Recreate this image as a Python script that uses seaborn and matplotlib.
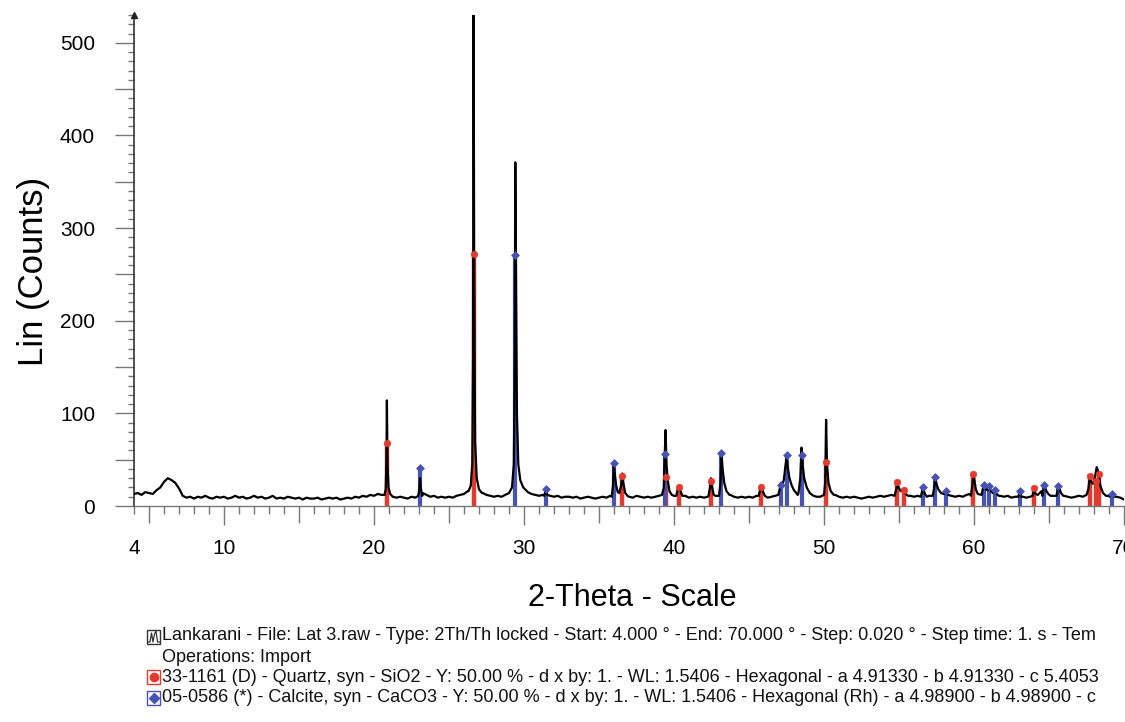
import numpy as np
import pandas as pd
import matplotlib
matplotlib.use("Agg")
import matplotlib.pyplot as plt
from matplotlib.patches import Rectangle
from matplotlib.lines import Line2D
from matplotlib.ticker import MultipleLocator
import seaborn as sns

# ---------------- data ----------------
# background of the measured pattern, every 0.25 deg from 4 to 70 deg 2-theta
bg_start, bg_end = 4.0, 70.0
bg_counts = [
    13, 14, 12, 15,   14, 13, 17, 20,   26, 30, 28, 25,   19, 11, 9, 10,     # 4-7
    8, 10, 9, 11,     9, 8, 10, 9,      10, 8, 9, 11,     9, 10, 8, 9,       # 8-11
    11, 9, 10, 8,     9, 11, 8, 9,      8, 10, 9, 8,      9, 7, 9, 8,        # 12-15
    8, 9, 7, 8,       9, 8, 9, 7,       8, 9, 8, 10,      9, 11, 10, 12,     # 16-19
    11, 13, 12, 15,   13, 10, 9, 10,    9, 8, 10, 9,      11, 14, 12, 10,    # 20-23
    11, 9, 10, 9,     10, 9, 11, 12,    13, 16, 22, 60,   20, 14, 12, 11,    # 24-27
    10, 11, 10, 12,   14, 20, 60, 150,  20, 15, 13, 12,   11, 12, 13, 11,    # 28-31
    10, 11, 9, 10,    10, 9, 10, 8,     9, 10, 9, 8,      9, 10, 9, 11,      # 32-35
    11, 11, 11, 11,   10, 9, 11, 10,    9, 10, 9, 10,     11, 12, 50, 14,    # 36-39
    11, 10, 12, 11,   9, 10, 9, 10,     9, 10, 12, 11,    11, 30, 15, 12,    # 40-43
    10, 9, 10, 9,     10, 9, 11, 12,    10, 9, 10, 11,    12, 18, 40, 25,    # 44-47
    15, 12, 30, 20,   13, 11, 10, 10,   13, 25, 14, 12,   10, 9, 10, 9,      # 48-51
    10, 9, 8, 9,      10, 9, 10, 11,    10, 11, 12, 15,   18, 16, 12, 11,    # 52-55
    10, 11, 13, 12,   11, 20, 18, 15,   13, 12, 11, 10,   11, 10, 12, 13,    # 56-59
    20, 13, 15, 18,   16, 17, 12, 11,   10, 11, 9, 10,    12, 10, 9, 10,     # 60-63
    14, 12, 16, 14,   12, 11, 14, 13,   11, 10, 9, 10,    11, 10, 11, 14,    # 64-67
    25, 30, 20, 13,   11, 12, 10, 9,    7,                                   # 68-70
]

# measured peak profiles: (2-theta, counts) read along each reflection
peak_profiles = [
    [(20.70, 12), (20.78, 18), (20.83, 50), (20.86, 114), (20.90, 45), (20.97, 20), (21.08, 13)],
    [(22.95, 11), (23.02, 18), (23.07, 30), (23.12, 19), (23.22, 11)],
    [(26.30, 16), (26.45, 22), (26.55, 45), (26.60, 160), (26.64, 530), (26.68, 250),
     (26.74, 70), (26.85, 30), (27.00, 18), (27.20, 14)],
    [(29.00, 14), (29.20, 20), (29.32, 45), (29.38, 150), (29.42, 371), (29.47, 240),
     (29.53, 100), (29.62, 45), (29.75, 28), (29.95, 20), (30.20, 16)],
    [(31.35, 11), (31.45, 17), (31.55, 12)],
    [(35.85, 10), (35.93, 22), (35.98, 45), (36.05, 35), (36.15, 22), (36.25, 15)],
    [(36.35, 14), (36.48, 22), (36.55, 35), (36.62, 25), (36.75, 14), (36.90, 11)],
    [(39.20, 12), (39.32, 20), (39.38, 55), (39.44, 82), (39.50, 45), (39.58, 28), (39.70, 16), (39.85, 12)],
    [(40.15, 11), (40.25, 18), (40.32, 22), (40.42, 17), (40.55, 11)],
    [(42.30, 11), (42.40, 20), (42.46, 30), (42.52, 22), (42.65, 12)],
    [(43.00, 11), (43.10, 25), (43.17, 55), (43.24, 40), (43.35, 25), (43.50, 16), (43.70, 12)],
    [(45.65, 11), (45.75, 18), (45.82, 22), (45.90, 17), (46.05, 11)],
    [(46.95, 12), (47.05, 18), (47.12, 25), (47.20, 22), (47.32, 28), (47.42, 42), (47.50, 52),
     (47.58, 42), (47.70, 30), (47.85, 22), (48.00, 17), (48.15, 14)],
    [(48.30, 14), (48.42, 30), (48.50, 63), (48.57, 45), (48.68, 30), (48.85, 20), (49.05, 14), (49.30, 11)],
    [(50.00, 12), (50.08, 25), (50.14, 93), (50.20, 45), (50.30, 25), (50.45, 16), (50.65, 12)],
    [(54.70, 11), (54.82, 18), (54.90, 25), (54.98, 20), (55.10, 16), (55.25, 18), (55.33, 17),
     (55.45, 13), (55.60, 11)],
    [(56.45, 10), (56.55, 16), (56.62, 19), (56.70, 14), (56.85, 10)],
    [(57.25, 11), (57.35, 20), (57.42, 30), (57.50, 24), (57.62, 18), (57.80, 14), (58.00, 13),
     (58.12, 16), (58.25, 12)],
    [(59.80, 11), (59.90, 24), (59.96, 35), (60.03, 28), (60.12, 18), (60.25, 13)],
    [(60.50, 12), (60.60, 19), (60.68, 24), (60.78, 18), (60.90, 17), (61.00, 22), (61.10, 17),
     (61.25, 14), (61.38, 18), (61.50, 13), (61.65, 11)],
    [(62.95, 10), (63.05, 15), (63.15, 10)],
    [(63.90, 11), (64.00, 18), (64.10, 13)],
    [(64.55, 11), (64.65, 20), (64.70, 23), (64.80, 17), (64.95, 13), (65.10, 11)],
    [(65.50, 11), (65.60, 19), (65.68, 20), (65.80, 14), (65.95, 11)],
    [(67.50, 12), (67.62, 18), (67.72, 31), (67.80, 26), (67.92, 24), (68.05, 30), (68.18, 42),
     (68.30, 36), (68.42, 22), (68.60, 14), (68.80, 11)],
    [(69.05, 10), (69.18, 14), (69.30, 10)],
]

# reference pattern sticks
quartz_2theta = [20.86, 26.65, 36.55, 39.47, 40.30, 42.45, 45.80, 50.15, 54.88, 55.33,
                 59.95, 64.03, 67.74, 68.14, 68.32]
quartz_counts = [68, 272, 32, 31, 21, 27, 21, 48, 26, 17, 35, 19, 32, 27, 35]
calcite_2theta = [23.06, 29.42, 31.45, 35.97, 39.40, 43.16, 47.12, 47.50, 48.52, 56.58,
                  57.40, 58.10, 60.67, 61.00, 61.40, 63.05, 64.68, 65.60, 69.20]
calcite_counts = [41, 271, 18, 46, 56, 57, 23, 55, 55, 20, 31, 16, 23, 22, 17, 16, 23, 22, 13]

x_ticks_major = [4, 5, 10, 15, 20, 25, 30, 35, 40, 45, 50, 55, 60, 65, 70]
x_tick_labels = ["4", "", "10", "", "20", "", "30", "", "40", "", "50", "", "60", "", "70"]
y_ticks_major = [0, 50, 100, 150, 200, 250, 300, 350, 400, 450, 500]
y_tick_labels = ["0", "", "100", "", "200", "", "300", "", "400", "", "500"]

legend_lines = [
    "Lankarani - File: Lat 3.raw - Type: 2Th/Th locked - Start: 4.000 \u00b0 - End: 70.000 \u00b0 - "
    "Step: 0.020 \u00b0 - Step time: 1. s - Tem",
    "Operations: Import",
    "33-1161 (D) - Quartz, syn - SiO2 - Y: 50.00 % - d x by: 1. - WL: 1.5406 - Hexagonal - "
    "a 4.91330 - b 4.91330 - c 5.4053",
    "05-0586 (*) - Calcite, syn - CaCO3 - Y: 50.00 % - d x by: 1. - WL: 1.5406 - Hexagonal (Rh) - "
    "a 4.98900 - b 4.98900 - c",
]

RED = "#e23b2e"
BLUE = "#4652b4"

# ---------------- build the measured trace ----------------
bg_x = np.linspace(bg_start, bg_end, len(bg_counts))
bg_y = np.array(bg_counts, dtype=float)
keep = np.ones(len(bg_x), dtype=bool)
for prof in peak_profiles:
    lo, hi = prof[0][0], prof[-1][0]
    keep &= ~((bg_x >= lo) & (bg_x <= hi))
pk_x = [p[0] for prof in peak_profiles for p in prof]
pk_y = [p[1] for prof in peak_profiles for p in prof]
trace = pd.DataFrame({
    "two_theta": np.concatenate([bg_x[keep], pk_x]),
    "counts": np.concatenate([bg_y[keep], pk_y]),
}).sort_values("two_theta").reset_index(drop=True)

# ---------------- figure ----------------
sns.set_style("white")
plt.rcParams["font.family"] = ["Liberation Sans", "DejaVu Sans"]
plt.rcParams["text.color"] = "black"
plt.rcParams["axes.labelcolor"] = "black"
plt.rcParams["xtick.labelcolor"] = "black"
plt.rcParams["ytick.labelcolor"] = "black"

W, H = 1125, 722
fig = plt.figure(figsize=(W / 100, H / 100), dpi=100)
ax = fig.add_axes([134 / W, 1 - 506 / H, (1124 - 134) / W, (506 - 15) / H])

ax.vlines(quartz_2theta, 0, quartz_counts, colors=RED, lw=3.2, zorder=2)
ax.vlines(calcite_2theta, 0, calcite_counts, colors=BLUE, lw=3.0, zorder=2)
sns.lineplot(data=trace, x="two_theta", y="counts", ax=ax, color="black",
             lw=1.6, estimator=None, sort=True, zorder=3)
sns.scatterplot(x=quartz_2theta, y=quartz_counts, ax=ax, marker="o", s=22,
                color=RED, edgecolor=RED, linewidth=0.5, zorder=4)
sns.scatterplot(x=calcite_2theta, y=calcite_counts, ax=ax, marker="D", s=16,
                color=BLUE, edgecolor=BLUE, linewidth=0.5, zorder=4)

ax.set_xlim(4, 70)
ax.set_ylim(0, 530)

for s in ["top", "right"]:
    ax.spines[s].set_visible(False)
ax.spines["left"].set_color("#333333")
ax.spines["bottom"].set_color("#777777")
ax.spines["left"].set_linewidth(1.2)
ax.spines["bottom"].set_linewidth(1.0)
ax.plot([0], [1], marker="^", ms=4, color="#222222", transform=ax.transAxes,
        clip_on=False, zorder=5)

ax.set_xticks(x_ticks_major)
ax.set_xticklabels(x_tick_labels)
ax.xaxis.set_minor_locator(MultipleLocator(1))
ax.set_yticks(y_ticks_major)
ax.set_yticklabels(y_tick_labels)
ax.yaxis.set_minor_locator(MultipleLocator(10))

ax.tick_params(axis="x", which="major", direction="out", length=14, width=1,
               color="#777777", pad=10, labelsize=15, labelcolor="black", bottom=True)
ax.tick_params(axis="x", which="minor", direction="out", length=5.5, width=1,
               color="#777777", bottom=True)
ax.tick_params(axis="y", which="major", direction="out", length=14, width=1,
               color="#777777", pad=14, labelsize=15, labelcolor="black", left=True)
ax.tick_params(axis="y", which="minor", direction="out", length=4.5, width=1,
               color="#777777", left=True)

for t, v in zip(ax.xaxis.get_major_ticks(), x_ticks_major):
    if v % 10 == 5:
        t.tick1line.set_markersize(12)
    elif v % 10 != 0:
        t.tick1line.set_markersize(5.5)

ax.set_xlabel("2-Theta - Scale", fontsize=22, color="black")
ax.xaxis.set_label_coords(0.503, -0.157)
ax.set_ylabel("Lin (Counts)", fontsize=25, color="black")
ax.yaxis.set_label_coords(-0.085, 0.477)


# ---------------- legend block below the chart ----------------
def fx(px):
    return px / W


def fy(py):
    return 1 - py / H


rows_y = [636, 657, 677, 698]
for txt, yy in zip(legend_lines, rows_y):
    fig.text(fx(162), fy(yy), txt, ha="left", va="center", fontsize=13.0, color="#111111")

# icon boxes
fig.add_artist(Rectangle((fx(147), fy(644)), 13 / W, 14 / H, transform=fig.transFigure,
                         fill=False, edgecolor="#333333", lw=1))
fig.add_artist(Line2D([fx(v) for v in [148, 150, 151.5, 153, 154.5, 156, 157.5, 159.5]],
                      [fy(v) for v in [642, 642, 633, 642, 634, 631, 642, 642]],
                      transform=fig.transFigure, color="#333333", lw=0.9))
fig.add_artist(Rectangle((fx(147), fy(684)), 13 / W, 14 / H, transform=fig.transFigure,
                         fill=False, edgecolor=RED, lw=1))
fig.add_artist(Line2D([fx(153.5)], [fy(677)], transform=fig.transFigure, marker="o",
                      ms=6, color=RED, lw=0))
fig.add_artist(Rectangle((fx(147), fy(705)), 13 / W, 14 / H, transform=fig.transFigure,
                         fill=False, edgecolor=BLUE, lw=1))
fig.add_artist(Line2D([fx(153.5)], [fy(698)], transform=fig.transFigure, marker="D",
                      ms=5, color=BLUE, lw=0))

fig.savefig("out.png", dpi=100, facecolor="white")
